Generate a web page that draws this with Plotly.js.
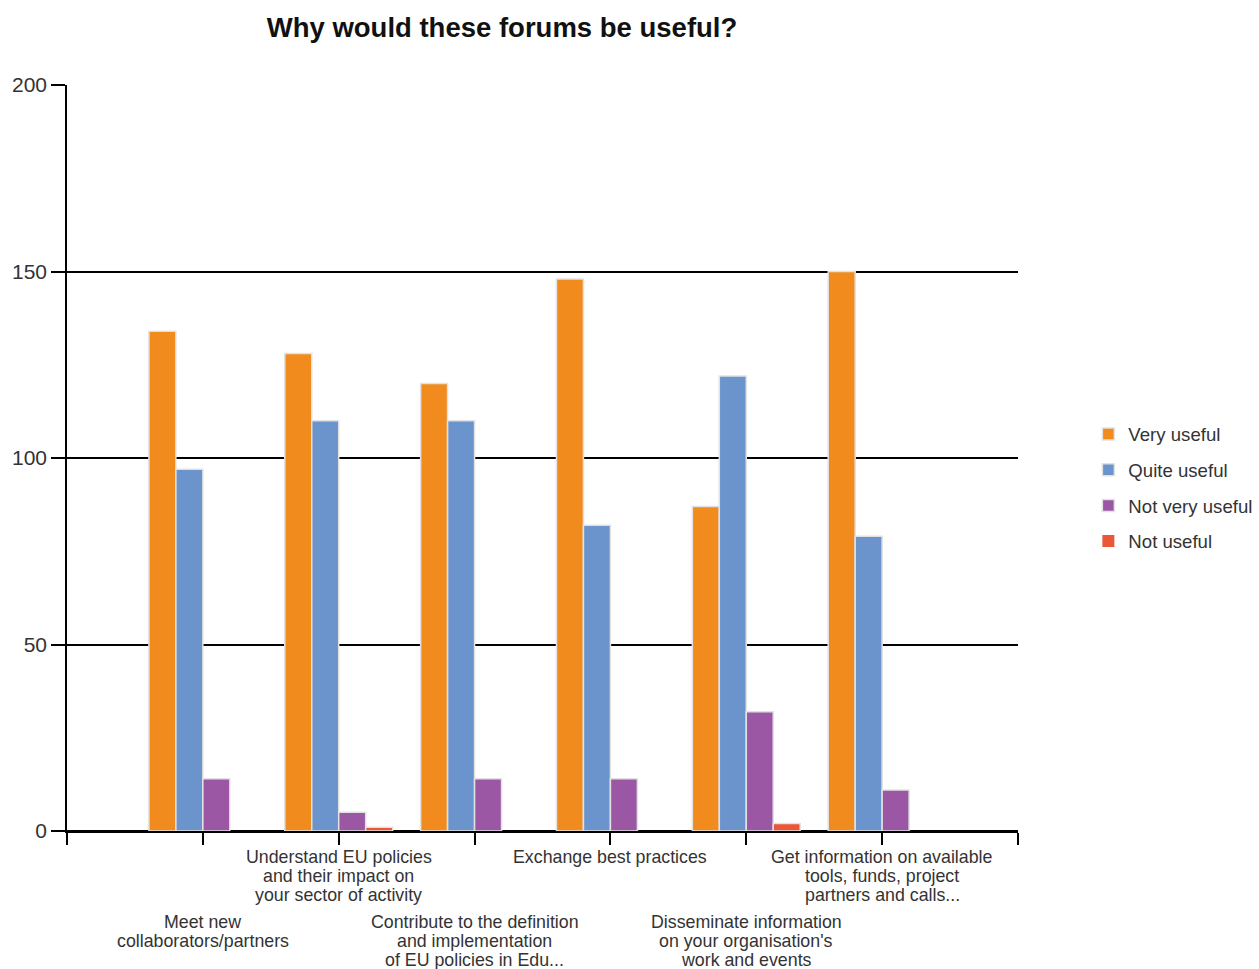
<!DOCTYPE html>
<html>
<head>
<meta charset="utf-8">
<script src="https://cdn.plot.ly/plotly-3.0.1.min.js"></script>
<style>html,body{margin:0;padding:0;background:#fff;}#chart{width:1259px;height:969px;}</style>
</head>
<body>
<div id="chart"></div>
<script>
const categoryLabels = [
  ["Meet new", "collaborators/partners"],
  ["Understand EU policies", "and their impact on", "your sector of activity"],
  ["Contribute to the definition", "and implementation", "of EU policies in Edu..."],
  ["Exchange best practices"],
  ["Disseminate information", "on your organisation's", "work and events"],
  ["Get information on available", "tools, funds, project", "partners and calls..."]
];
const seriesNames = ["Very useful", "Quite useful", "Not very useful", "Not useful"];
const veryUseful    = [134, 128, 120, 148, 87, 150];
const quiteUseful   = [97, 110, 110, 82, 122, 79];
const notVeryUseful = [14, 5, 14, 14, 32, 11];
const notUseful     = [0, 1, 0, 0, 2, 0];
const seriesColors = ["#F28B1E", "#6B93CC", "#9B56A4", "#EA5638"];
const yTicks = [0, 50, 100, 150, 200];

const seriesValues = [veryUseful, quiteUseful, notVeryUseful, notUseful];
const xIdx = categoryLabels.map((_, i) => i);

const traces = seriesValues.map((vals, s) => ({
  type: "bar",
  name: seriesNames[s],
  x: xIdx,
  y: vals,
  legendgroup: "g" + s,
  marker: {
    color: seriesColors[s],
    line: { color: "#e2e2e2", width: vals.map(v => v > 0 ? 1.5 : 0) }
  },
  hoverinfo: "y+name"
}));

// x category labels, staggered in two rows, one annotation per line
const plotTop = 85, plotBottom = 831, plotH = plotBottom - plotTop;
const rowTops = [857, 922];
const lineStep = 19;
const annotations = [];
categoryLabels.forEach((lines, i) => {
  const row = (i % 2 === 1) ? 0 : 1;
  lines.forEach((ln, k) => {
    const py = rowTops[row] + k * lineStep;
    annotations.push({
      xref: "x", yref: "paper", x: i, y: (plotBottom - py) / plotH,
      text: ln, showarrow: false, xanchor: "center", yanchor: "middle",
      font: { family: "Liberation Sans, Arial, sans-serif", size: 17.8, color: "#333" }
    });
  });
});

const layout = {
  width: 1259, height: 969,
  margin: { l: 67, r: 241, t: 85, b: 138, pad: 0, autoexpand: false },
  paper_bgcolor: "#fff", plot_bgcolor: "#fff",
  title: {
    text: "<b>Why would these forums be useful?</b>",
    xref: "container", yref: "container",
    x: 502 / 1259, xanchor: "center",
    y: 1 - 27 / 969, yanchor: "middle",
    font: { family: "Liberation Sans, Arial, sans-serif", size: 27.5, color: "#111" }
  },
  barmode: "group",
  bargap: 0.206,
  bargroupgap: 0,
  showlegend: true,
  legend: {
    x: 1.074, xanchor: "left", y: 0.557, yanchor: "top",
    font: { family: "Liberation Sans, Arial, sans-serif", size: 18.6, color: "#333" },
    tracegroupgap: 8.5, traceorder: "grouped", bgcolor: "rgba(0,0,0,0)"
  },
  xaxis: {
    type: "linear", range: [-1, 6],
    tickvals: [-1, 0, 1, 2, 3, 4, 5, 6],
    showticklabels: false,
    ticks: "outside", ticklen: 12, tickwidth: 1.5, tickcolor: "#000",
    showgrid: false, zeroline: false,
    showline: true, linecolor: "#000", linewidth: 1.5,
    fixedrange: true
  },
  yaxis: {
    range: [0, 200], tickvals: yTicks,
    ticks: "outside", ticklen: 14, tickwidth: 1.5, tickcolor: "#000",
    showgrid: true, gridcolor: "#000", gridwidth: 1.5,
    zeroline: true, zerolinecolor: "#000", zerolinewidth: 1.5,
    showline: true, linecolor: "#000", linewidth: 1.5,
    tickfont: { family: "Liberation Sans, Arial, sans-serif", size: 21, color: "#333" },
    fixedrange: true
  },
  annotations: annotations
};

Plotly.newPlot("chart", traces, layout, { displayModeBar: false });
</script>
</body>
</html>
